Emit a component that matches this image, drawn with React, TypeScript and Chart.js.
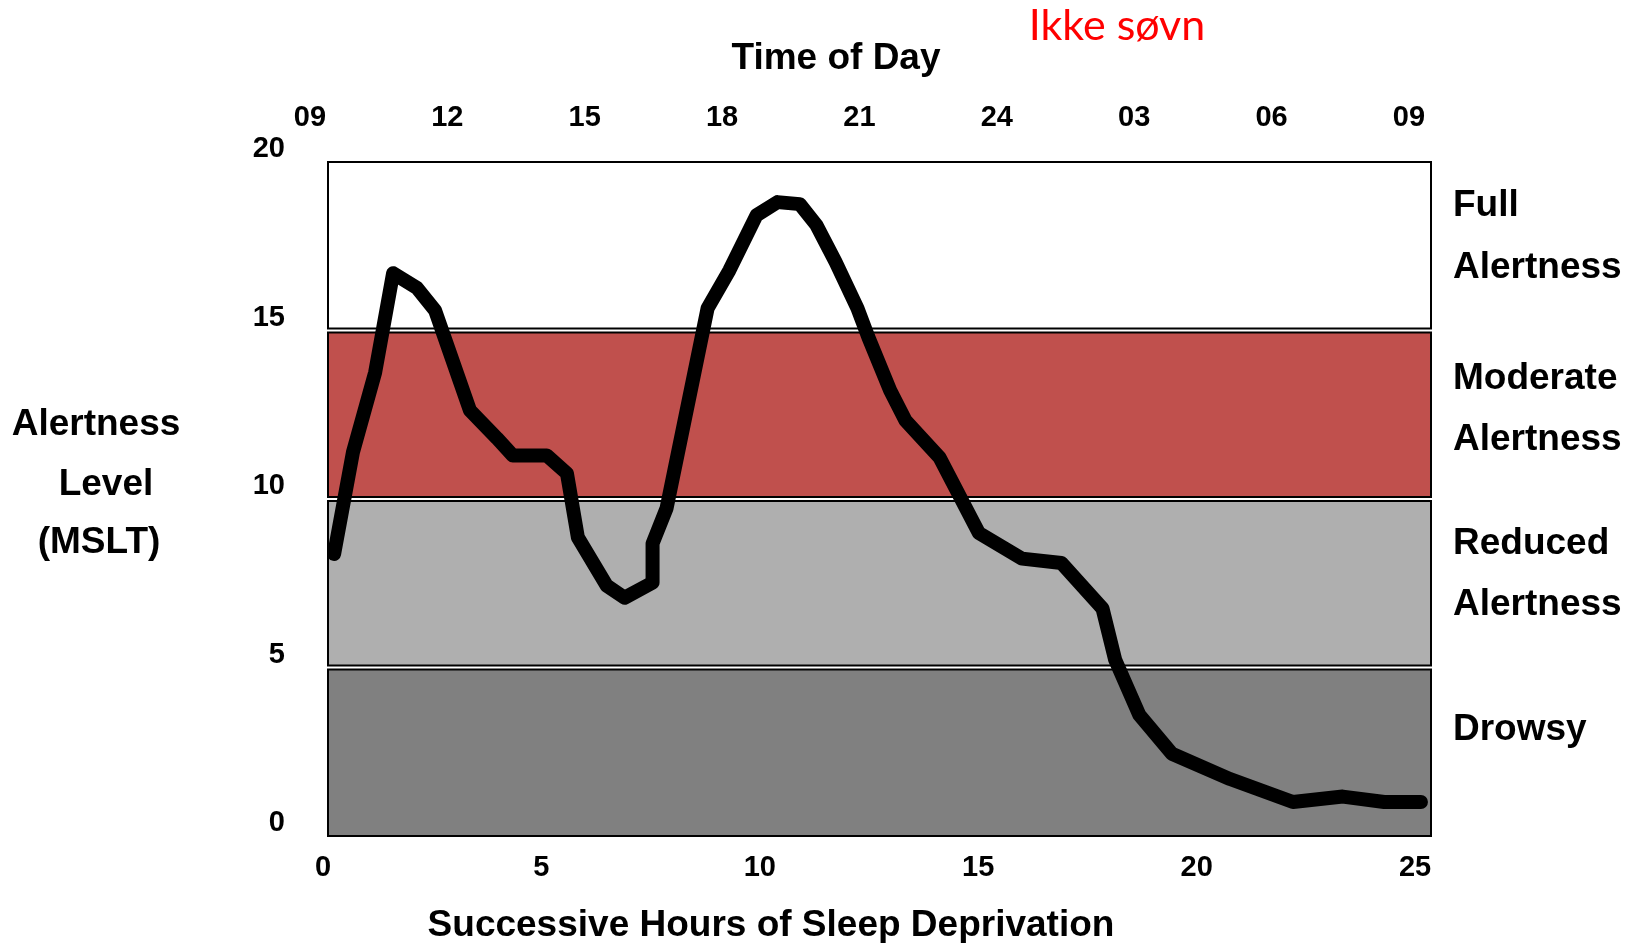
import React, { useEffect, useRef } from "react";
import { Chart, registerables } from "chart.js";

Chart.register(...registerables);

// ---- data ----
const hours = [
  0.14, 0.57, 1.08, 1.49, 2.04, 2.45, 3.25, 3.87, 4.23, 5.01, 5.47, 5.72, 6.38, 6.79,
  7.43, 7.43, 7.75, 8.69, 9.19, 9.81, 10.29, 10.8, 11.18, 11.62, 12.12, 12.37, 12.87,
  13.22, 14.0, 14.9, 15.89, 16.79, 17.73, 18.02, 18.57, 19.32, 20.65, 22.09, 23.23,
  24.18, 25.02,
];
const alertness = [
  8.37, 11.38, 13.76, 16.7, 16.26, 15.6, 12.63, 11.8, 11.29, 11.29, 10.76, 8.86, 7.43,
  7.07, 7.52, 8.68, 9.72, 15.66, 16.79, 18.42, 18.81, 18.75, 18.13, 17.03, 15.66, 14.8,
  13.22, 12.33, 11.23, 8.99, 8.23, 8.1, 6.75, 5.23, 3.6, 2.44, 1.69, 1.01, 1.17, 1.01,
  1.01,
];
const hourTicks = [0, 5, 10, 15, 20, 25];
const timeOfDayLabels = ["09", "12", "15", "18", "21", "24", "03", "06", "09"];
const alertTicks = [0, 5, 10, 15, 20];
const bandLow = [15, 10, 5, 0];
const bandHigh = [20, 15, 10, 5];
const bandColors = ["#FFFFFF", "#C0504D", "#AFAFAF", "#808080"];
const bandLabels = [["Full", "Alertness"], ["Moderate", "Alertness"], ["Reduced", "Alertness"], ["Drowsy"]];
const yAxisTitle = ["Alertness", "Level", "(MSLT)"];
const xAxisTitle = "Successive Hours of Sleep Deprivation";
const topAxisTitle = "Time of Day";
const note = "Ikke søvn";

// ---- styling / layout ----
const FONT = '"Liberation Sans", Arial, Helvetica, sans-serif';
const W = 1633;
const H = 943;

const bandsPlugin = {
  id: "bands",
  beforeDatasetsDraw(chart: any) {
    const { ctx, chartArea: a, scales } = chart;
    const y = scales.y;
    ctx.save();
    bandLow.forEach((lo, i) => {
      const hi = bandHigh[i];
      const top = y.getPixelForValue(hi) + (hi < y.max ? 2 : 0);
      const bottom = y.getPixelForValue(lo) - (lo > y.min ? 2 : 0);
      ctx.fillStyle = bandColors[i];
      ctx.fillRect(a.left, top, a.right - a.left, bottom - top);
      ctx.lineWidth = 2;
      ctx.strokeStyle = "#000";
      ctx.strokeRect(a.left, top, a.right - a.left, bottom - top);
    });
    ctx.restore();
  },
};

const textPlugin = {
  id: "freeText",
  afterDraw(chart: any) {
    const { ctx, chartArea: a } = chart;
    ctx.save();
    ctx.fillStyle = "#000";
    ctx.textBaseline = "alphabetic";
    ctx.font = `bold 37px ${FONT}`;
    ctx.textAlign = "center";
    ctx.fillText(topAxisTitle, 836, 69);
    ctx.fillText(xAxisTitle, 771, 936);
    const leftX = [96, 106, 99];
    const leftY = [435, 495, 553];
    yAxisTitle.forEach((t, i) => ctx.fillText(t, leftX[i], leftY[i]));
    ctx.textAlign = "left";
    const rightBaselines = [[216, 277.5], [389, 450], [553.5, 615], [740]];
    bandLabels.forEach((lines, i) =>
      lines.forEach((t, j) => ctx.fillText(t, a.right + 22, rightBaselines[i][j]))
    );
    ctx.fillStyle = "#FF0000";
    ctx.font = `43px Lato, "Open Sans", sans-serif`;
    ctx.textAlign = "center";
    ctx.fillText(note, 1117, 40);
    ctx.restore();
  },
};

const tickFont = { family: FONT, size: 29, weight: "bold" as const };

export default function App() {
  const ref = useRef<HTMLCanvasElement | null>(null);

  useEffect(() => {
    if (!ref.current) return;
    const chart = new Chart(ref.current, {
      type: "line",
      data: {
        datasets: [
          {
            data: hours.map((h, i) => ({ x: h, y: alertness[i] })),
            borderColor: "#000",
            borderWidth: 14,
            pointRadius: 0,
            tension: 0,
            borderJoinStyle: "round",
            borderCapStyle: "round",
            fill: false,
            xAxisID: "x",
            yAxisID: "y",
          },
        ],
      },
      options: {
        responsive: false,
        animation: false,
        devicePixelRatio: 1,
        layout: { padding: { left: 0, right: W - 1431, top: 0, bottom: 0 } },
        plugins: {
          legend: { display: false },
          tooltip: { enabled: false },
          title: { display: false },
        },
        scales: {
          x: {
            type: "linear",
            position: "bottom",
            display: true,
            min: 0,
            max: 25.25,
            afterFit: (s: any) => {
              s.height = 107;
            },
            afterBuildTicks: (s: any) => {
              s.ticks = hourTicks.map((v) => ({ value: v }));
            },
            grid: { display: false, drawTicks: false },
            border: { display: false },
            ticks: {
              includeBounds: false,
              padding: 15,
              labelOffset: -5,
              color: "#000",
              font: tickFont,
              maxRotation: 0,
              autoSkip: false,
            },
          },
          x2: {
            type: "linear",
            position: "top",
            display: true,
            min: 0,
            max: 8.03,
            afterFit: (s: any) => {
              s.height = 162;
            },
            afterBuildTicks: (s: any) => {
              s.ticks = timeOfDayLabels.map((_, i) => ({ value: i }));
            },
            grid: { display: false, drawTicks: false },
            border: { display: false },
            ticks: {
              includeBounds: false,
              padding: 27,
              labelOffset: -18,
              color: "#000",
              font: tickFont,
              maxRotation: 0,
              autoSkip: false,
              callback: (v: any) => timeOfDayLabels[Math.round(Number(v))] ?? "",
            },
          },
          y: {
            type: "linear",
            position: "left",
            min: 0,
            max: 20,
            afterFit: (s: any) => {
              s.width = 328;
            },
            afterBuildTicks: (s: any) => {
              s.ticks = alertTicks.map((v) => ({ value: v }));
            },
            grid: { display: false, drawTicks: false },
            border: { display: false },
            ticks: {
              padding: 43,
              labelOffset: -13,
              color: "#000",
              font: tickFont,
              autoSkip: false,
            },
          },
        },
      } as any,
      plugins: [bandsPlugin, textPlugin],
    });
    return () => chart.destroy();
  }, []);

  return (
    <div style={{ position: "absolute", left: 0, top: 0, width: W, height: H, background: "#fff" }}>
      <canvas ref={ref} width={W} height={H} style={{ display: "block", width: W, height: H }} />
    </div>
  );
}
